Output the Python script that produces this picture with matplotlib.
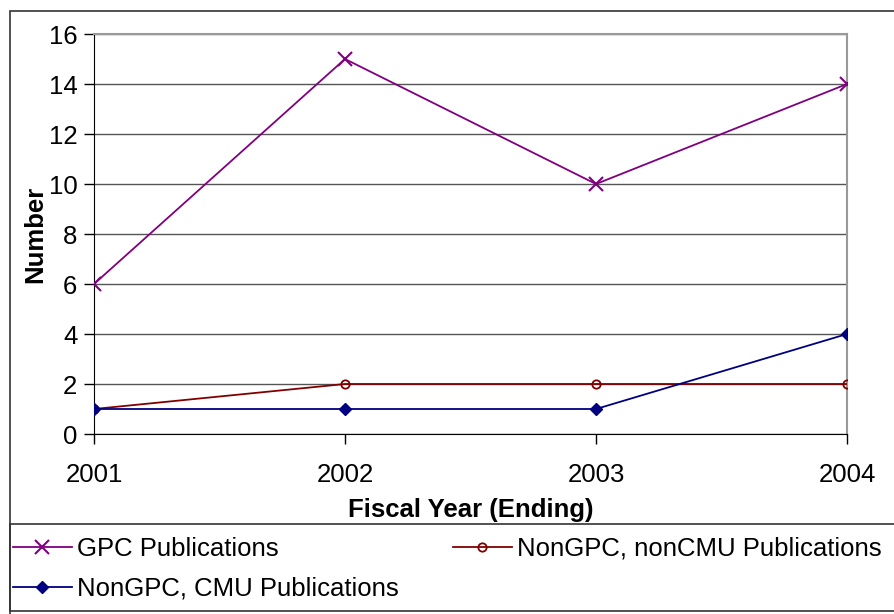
import matplotlib
matplotlib.use("Agg")
import matplotlib.pyplot as plt
from matplotlib.patches import Rectangle

years = ["2001", "2002", "2003", "2004"]
gpc = [6, 15, 10, 14]
noncmu = [1, 2, 2, 2]
cmu = [1, 1, 1, 4]

PURPLE = "#800080"
MAROON = "#800000"
NAVY = "#000080"

plt.rcParams["font.family"] = ["Liberation Sans", "DejaVu Sans"]

W, H = 894, 614
fig = plt.figure(figsize=(W / 100, H / 100), dpi=100)
ax = fig.add_axes([94 / W, 1 - 434 / H, (847 - 94) / W, (434 - 34) / H])

x = list(range(len(years)))
l1, = ax.plot(x, gpc, color=PURPLE, lw=1.3, marker="x", ms=10, mew=1.5,
              label="GPC Publications", zorder=3)
l2, = ax.plot(x, noncmu, color=MAROON, lw=1.3, marker="o", ms=6, mew=1.3,
              mfc="none", label="NonGPC, nonCMU Publications", zorder=3)
l3, = ax.plot(x, cmu, color=NAVY, lw=1.3, marker="D", ms=6,
              label="NonGPC, CMU Publications", zorder=4)

ax.set_xlim(0, 3)
ax.set_ylim(0, 16)
ax.set_xticks(x)
ax.set_xticklabels(years)
ax.set_yticks(range(0, 17, 2))
ax.yaxis.grid(True, color="#555555", lw=1.0)
ax.set_axisbelow(True)
ax.tick_params(labelsize=18.5, length=7, width=1, direction="out", pad=5)
ax.tick_params(axis="x", pad=14)
for side in ("top", "right"):
    ax.spines[side].set_color("#999999")
    ax.spines[side].set_linewidth(1.5)
for side in ("left", "bottom"):
    ax.spines[side].set_color("black")
ax.set_ylabel("Number", fontsize=18.5, fontweight="bold", labelpad=1)
ax.set_xlabel("Fiscal Year (Ending)", fontsize=18.5, fontweight="bold", labelpad=8)

# outer frame and legend box
fig.add_artist(Rectangle((10 / W, -0.05), 1.1, 1 - 11 / H + 0.05, transform=fig.transFigure,
                         fill=False, ec="#333333", lw=1.2))
fig.add_artist(Rectangle((10 / W, 1 - 611 / H), 1.1, (611 - 524) / H, transform=fig.transFigure,
                         fill=False, ec="#333333", lw=1.2))

fig.legend(handles=[l1, l3, l2], ncol=2, loc="upper left",
           bbox_to_anchor=(10 / W, 1 - 534 / H), frameon=False, fontsize=18.5,
           handlelength=2.3, handletextpad=0.2, columnspacing=2.1,
           labelspacing=0.62, borderpad=0.1, borderaxespad=0)

fig.savefig("out.png", dpi=100)
